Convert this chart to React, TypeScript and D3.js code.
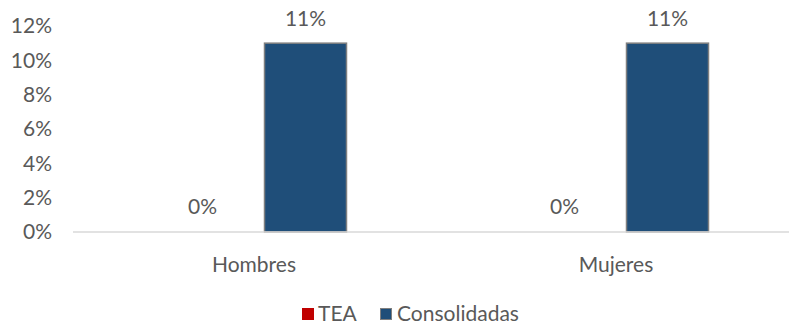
import React from "react";
import * as d3 from "d3";

const categories = ["Hombres", "Mujeres"];
const seriesNames = ["TEA", "Consolidadas"];
const teaValues = [0, 0];
const consolidadasValues = [0.11, 0.11];
const yTicks = [0, 0.02, 0.04, 0.06, 0.08, 0.1, 0.12];

const W = 789;
const H = 329;
const FONT = "Lato, 'Open Sans', sans-serif";
const FS = 21;
const TXT = "#595959";
const colors = ["#C00000", "#1F4E79"];

export default function App() {
  const y = d3.scaleLinear().domain([0, 0.12]).range([232, 26]);
  const x0 = d3.scaleBand<string>().domain(categories).range([73, 797]).paddingInner(0).paddingOuter(0);
  const barW = 82;
  const gap = 21;
  const x1 = d3
    .scaleBand<string>()
    .domain(seriesNames)
    .range([0, barW * 2 + gap])
    .paddingInner(gap / (barW + gap))
    .paddingOuter(0);
  const series = [teaValues, consolidadasValues];
  const fmt = d3.format(".0%");

  return (
    <svg width={W} height={H} style={{ position: "absolute", left: 0, top: 0, background: "#fff" }} fontFamily={FONT}>
      {yTicks.map((t) => (
        <text key={t} x={52} y={y(t)} dy="0.35em" textAnchor="end" fontSize={FS} fill={TXT}>
          {fmt(t)}
        </text>
      ))}
      {categories.map((c, ci) => {
        const center = x0(c)! + x0.bandwidth() / 2;
        const start = center - (barW * 2 + gap) / 2;
        return (
          <g key={c}>
            {series.map((vals, si) => {
              const bx = start + x1(seriesNames[si])!;
              const bw = x1.bandwidth();
              const v = vals[ci];
              return (
                <g key={si}>
                  {v > 0 && (
                    <rect
                      x={bx}
                      y={y(v)}
                      width={bw}
                      height={y(0) - y(v)}
                      fill={colors[si]}
                      stroke="#7f7f7f"
                      strokeWidth={1.5}
                    />
                  )}
                  <text x={bx + bw / 2} y={y(v) - 25} dy="0.35em" textAnchor="middle" fontSize={FS} fill={TXT}>
                    {fmt(v)}
                  </text>
                </g>
              );
            })}
            <text x={center} y={265} dy="0.35em" textAnchor="middle" fontSize={FS} fill={TXT}>
              {c}
            </text>
          </g>
        );
      })}
      <line x1={73} x2={W} y1={y(0)} y2={y(0)} stroke="#d9d9d9" strokeWidth={1.5} />
      <g>
        <rect x={302} y={308} width={12} height={12} fill={colors[0]} />
        <text x={318} y={314} dy="0.35em" fontSize={FS} fill={TXT}>
          {seriesNames[0]}
        </text>
        <rect x={380.5} y={308.5} width={11} height={11} fill={colors[1]} stroke="#7f7f7f" strokeWidth={1} />
        <text x={397} y={314} dy="0.35em" fontSize={FS} fill={TXT}>
          {seriesNames[1]}
        </text>
      </g>
    </svg>
  );
}
